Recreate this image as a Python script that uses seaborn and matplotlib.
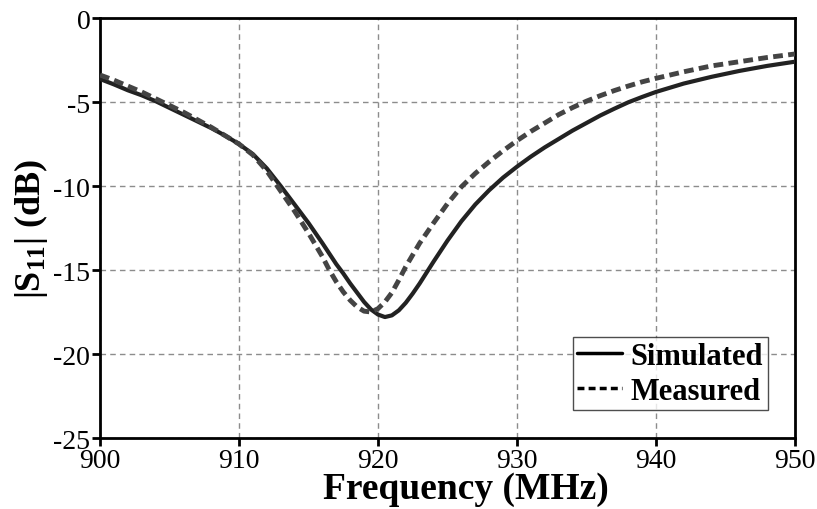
import matplotlib
matplotlib.use("Agg")
import matplotlib.pyplot as plt
import seaborn as sns
import pandas as pd

# values
sim_freq = [900, 901, 902, 903, 904, 905, 906, 907, 908, 909, 910, 911, 912, 913, 914,
            915, 916, 917, 917.5, 918, 918.5, 919, 919.5, 920, 920.5, 921, 921.5, 922,
            922.5, 923, 923.5, 924, 925, 926, 927, 928, 929, 930, 931, 932, 933, 934,
            935, 936, 937, 938, 939, 940, 942, 944, 946, 948, 950]
sim_s11 = [-3.63, -3.95, -4.3, -4.6, -4.95, -5.35, -5.75, -6.15, -6.55, -7.0, -7.5, -8.1,
           -8.95, -10.0, -11.1, -12.2, -13.4, -14.65, -15.2, -15.8, -16.35, -16.9, -17.35,
           -17.65, -17.8, -17.7, -17.4, -16.95, -16.4, -15.8, -15.15, -14.5, -13.25,
           -12.1, -11.1, -10.25, -9.5, -8.85, -8.25, -7.7, -7.2, -6.7, -6.25, -5.8,
           -5.4, -5.02, -4.7, -4.4, -3.9, -3.5, -3.15, -2.85, -2.6]

meas_freq = [900, 901, 902, 903, 904, 905, 906, 907, 908, 909, 910, 911, 912, 913, 914,
             915, 916, 916.5, 917, 917.5, 918, 918.5, 919, 919.5, 920, 920.5, 921, 921.5,
             922, 923, 924, 925, 926, 927, 928, 929, 930, 931, 932, 933, 934, 935, 936,
             937, 938, 939, 940, 942, 944, 946, 948, 950]
meas_s11 = [-3.39, -3.7, -4.05, -4.4, -4.8, -5.2, -5.6, -6.05, -6.5, -7.0, -7.5, -8.15,
            -9.1, -10.3, -11.5, -12.8, -14.2, -15.0, -15.7, -16.3, -16.8, -17.2, -17.45,
            -17.5, -17.3, -16.9, -16.35, -15.6, -14.8, -13.4, -12.2, -11.05, -10.05, -9.25,
            -8.55, -7.9, -7.3, -6.75, -6.25, -5.75, -5.33, -4.95, -4.62, -4.32, -4.05, -3.8,
            -3.59, -3.2, -2.85, -2.6, -2.35, -2.14]

x_ticks = [900, 910, 920, 930, 940, 950]
y_ticks = [0, -5, -10, -15, -20, -25]

sns.set_style("ticks")
plt.rcParams["font.family"] = ["Liberation Serif", "DejaVu Serif"]
plt.rcParams["mathtext.default"] = "regular"
plt.rcParams["axes.unicode_minus"] = False
plt.rcParams["text.color"] = "black"
plt.rcParams["axes.labelcolor"] = "black"

sim = pd.DataFrame({"freq": sim_freq, "s11": sim_s11})
meas = pd.DataFrame({"freq": meas_freq, "s11": meas_s11})

fig = plt.figure(figsize=(8.17, 5.10), dpi=100)
ax = fig.add_axes([0.1224, 0.1392, 0.8506, 0.8235])

sns.lineplot(data=sim, x="freq", y="s11", ax=ax, color="#222222", lw=3,
             label="Simulated", zorder=3)
sns.lineplot(data=meas, x="freq", y="s11", ax=ax, color="#444444", lw=3.5,
             label="Measured", zorder=3)
ax.lines[1].set_linestyle((0, (2, 1.1)))

ax.set_xlim(900, 950)
ax.set_ylim(-25, 0)
ax.set_xticks(x_ticks)
ax.set_yticks(y_ticks)
ax.tick_params(axis="both", labelsize=20, direction="out", length=6, width=2,
               colors="black", pad=1)
ax.grid(True, color="#8c8c8c", linestyle=(0, (4, 3)), lw=1)

for s in ax.spines.values():
    s.set_linewidth(2)
    s.set_color("black")

ax.set_xlabel("Frequency (MHz)", fontsize=27, fontweight="bold")
ax.set_ylabel("|S$_{11}$| (dB)", fontsize=26, fontweight="bold")
ax.xaxis.set_label_coords(0.527, -0.078)
ax.yaxis.set_label_coords(-0.072, 0.5)

leg = ax.legend(loc="lower right", bbox_to_anchor=(0.961, 0.066),
                prop={"weight": "bold", "size": 22}, frameon=True, fancybox=False,
                handlelength=1.45, handletextpad=0.3, borderpad=0.15,
                labelspacing=0.2, borderaxespad=0)
leg.get_frame().set_edgecolor("#222222")
leg.get_frame().set_linewidth(1)
for h in leg.legend_handles:
    h.set_color("black")
    h.set_linewidth(2.5)
leg.legend_handles[1].set_linestyle((0, (2, 1.2)))

fig.savefig("out.png", dpi=100)
